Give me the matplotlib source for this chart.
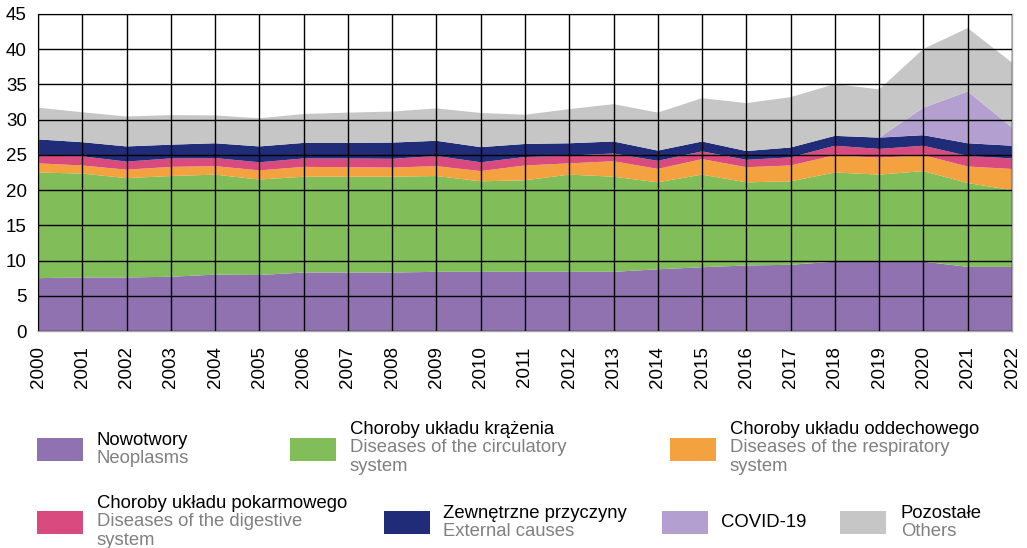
import matplotlib
matplotlib.use("Agg")
import matplotlib.pyplot as plt
from matplotlib.patches import Rectangle

plt.rcParams['font.family'] = ['Liberation Sans', 'DejaVu Sans']

years = list(range(2000, 2023))
neoplasms = [7.5, 7.6, 7.6, 7.7, 8.0, 7.95, 8.3, 8.3, 8.3, 8.4, 8.4, 8.4, 8.4, 8.4,
             8.76, 9.05, 9.3, 9.4, 9.85, 9.85, 9.85, 9.1, 9.1]
circulatory = [15.0, 14.75, 14.1, 14.3, 14.2, 13.55, 13.6, 13.6, 13.6, 13.6, 12.85, 13.0,
               13.8, 13.5, 12.35, 13.15, 11.8, 11.85, 12.65, 12.35, 12.85, 11.9, 10.9]
respiratory = [1.3, 1.15, 1.2, 1.3, 1.2, 1.3, 1.4, 1.35, 1.3, 1.4, 1.45, 2.1, 1.6, 2.2,
               1.9, 2.2, 2.15, 2.25, 2.45, 2.4, 2.25, 2.35, 3.0]
digestive = [1.15, 1.3, 1.15, 1.2, 1.15, 1.15, 1.2, 1.25, 1.25, 1.45, 1.25, 1.2, 1.1, 1.1,
             1.15, 1.1, 1.05, 1.15, 1.35, 1.25, 1.35, 1.5, 1.5]
external = [2.25, 2.0, 2.15, 1.95, 2.1, 2.25, 2.2, 2.2, 2.3, 2.15, 2.15, 1.85, 1.75, 1.7,
            1.45, 1.4, 1.25, 1.4, 1.4, 1.6, 1.5, 1.8, 1.8]
covid = [0] * 20 + [3.9, 7.35, 2.6]
others = [4.5, 4.25, 4.25, 4.2, 3.95, 4.0, 4.1, 4.3, 4.4, 4.6, 4.85, 4.15, 4.85, 5.3,
          5.4, 6.15, 6.8, 7.15, 7.35, 6.85, 8.35, 9.0, 9.2]

colors = ['#8F72AF', '#81BD59', '#F4A13F', '#D94B7E', '#202C78', '#B3A0D0', '#C6C6C6']

legend_items = [
    (["Nowotwory"], ["Neoplasms"]),
    (["Choroby układu krążenia"], ["Diseases of the circulatory", "system"]),
    (["Choroby układu oddechowego"], ["Diseases of the respiratory", "system"]),
    (["Choroby układu pokarmowego"], ["Diseases of the digestive", "system"]),
    (["Zewnętrzne przyczyny"], ["External causes"]),
    (["COVID-19"], []),
    (["Pozostałe"], ["Others"]),
]

W, H = 1027, 548
fig = plt.figure(figsize=(W / 100, H / 100), dpi=100)
ax = fig.add_axes([38 / W, 1 - 331 / H, (1012 - 38) / W, (331 - 14) / H])

ax.stackplot(years, neoplasms, circulatory, respiratory, digestive, external, covid, others,
             colors=colors, linewidth=0)

ax.set_xlim(2000, 2022)
ax.set_ylim(0, 45)
ax.set_xticks(years)
ax.set_xticklabels([str(y) for y in years], rotation=90)
ax.set_yticks(range(0, 46, 5))
ax.tick_params(axis='y', length=0, pad=8, labelsize=13.5)
ax.tick_params(axis='x', length=0, pad=11, labelsize=13.5)
ax.set_axisbelow(False)
ax.grid(True, color='black', linewidth=1.0)
for s in ax.spines.values():
    s.set_color('#A6A6A6')
    s.set_linewidth(1.0)

# legend (figure pixel coordinates)
def fx(px):
    return px / W

def fy(py):
    return 1 - py / H

# (box_x, box_y_top, text_x, first_baseline)
legend_pos = [
    (37, 438, 97, 445),
    (290, 438, 350, 434),
    (670, 438, 730, 434),
    (37, 511, 97, 508),
    (384, 511, 443, 518),
    (662, 511, 721, 527),
    (840, 511, 901, 518),
]
line_h = 18.3
for (bx, by, tx, tb), col, (black_lines, gray_lines) in zip(legend_pos, colors, legend_items):
    fig.patches.append(Rectangle((fx(bx), fy(by + 22.5)), 46 / W, 22.5 / H,
                                 transform=fig.transFigure, facecolor=col,
                                 edgecolor='none'))
    y = tb
    for t in black_lines:
        fig.text(fx(tx), fy(y), t, fontsize=13.3, color='black', va='baseline', ha='left')
        y += line_h
    for t in gray_lines:
        fig.text(fx(tx), fy(y), t, fontsize=13.3, color='#808080', va='baseline', ha='left')
        y += line_h

fig.savefig('out.png', dpi=100, facecolor='white')
